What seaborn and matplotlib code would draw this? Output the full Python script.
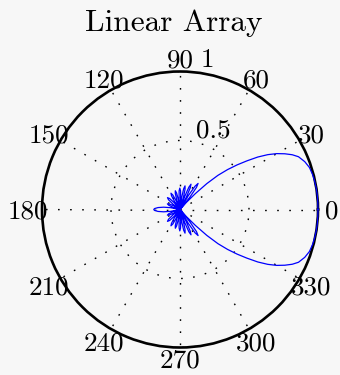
import numpy as np
import pandas as pd
import matplotlib
matplotlib.use("Agg")
import matplotlib.pyplot as plt
import seaborn as sns

# ---- data (upper half, degrees / normalized |AF|) ----
main_lobe_deg = [0, 3, 6, 9, 12, 15, 18, 21, 24, 26, 28, 30, 32, 34, 36, 38, 40, 42, 44, 46, 48, 49.5]
main_lobe_r   = [1.0, 1.0, 1.0, 0.999, 0.997, 0.993, 0.986, 0.968, 0.94, 0.905, 0.86, 0.81,
                 0.75, 0.68, 0.60, 0.525, 0.45, 0.37, 0.27, 0.16, 0.07, 0.0]

side_lobe_deg = [51.4, 53.3, 55.25, 57.2, 59.1, 61,
                 62.8, 64.7, 66.5, 68.3, 70.2, 72,
                 74, 76, 78, 80, 82, 84,
                 86.2, 88.3, 90.5, 92.7, 94.8, 97,
                 99.3, 101.7, 104, 106.3, 108.7, 111,
                 113.7, 116.3, 119, 121.7, 124.3, 127,
                 130.2, 133.3, 136.5, 139.7, 142.8, 146,
                 149.3, 152.7, 156, 159.3, 162.7, 166]
side_lobe_r   = [0.115, 0.20, 0.23, 0.20, 0.115, 0.0,
                 0.10, 0.174, 0.20, 0.174, 0.10, 0.0,
                 0.088, 0.152, 0.175, 0.152, 0.088, 0.0,
                 0.078, 0.135, 0.155, 0.135, 0.078, 0.0,
                 0.07, 0.122, 0.14, 0.122, 0.07, 0.0,
                 0.068, 0.117, 0.135, 0.117, 0.068, 0.0,
                 0.063, 0.109, 0.125, 0.109, 0.063, 0.0,
                 0.05, 0.087, 0.10, 0.087, 0.05, 0.0]

back_lobe_deg = [169, 172, 175, 178, 180]
back_lobe_r   = [0.07, 0.12, 0.16, 0.185, 0.19]

angle_ticks = [0, 30, 60, 90, 120, 150, 180, 210, 240, 270, 300, 330]
radial_ticks = [0.5, 1]
radial_labels = ["0.5", "1"]
title_text = "Linear Array"

# pattern is symmetric about the 0-180 axis
upper_deg = main_lobe_deg + side_lobe_deg + back_lobe_deg
upper_r = main_lobe_r + side_lobe_r + back_lobe_r
full_deg = upper_deg + [360 - a for a in reversed(upper_deg[:-1])]
full_r = upper_r + list(reversed(upper_r[:-1]))
df = pd.DataFrame({"theta": np.deg2rad(full_deg), "r": full_r})

# ---- styling ----
sns.set_style("white")
plt.rcParams["font.family"] = ["cmr10", "DejaVu Sans"]
plt.rcParams["mathtext.fontset"] = "cm"
plt.rcParams["axes.unicode_minus"] = False
plt.rcParams["axes.formatter.use_mathtext"] = True

bg = "#f7f7f7"
fig = plt.figure(figsize=(3.4, 3.75), dpi=100, facecolor=bg)
R_PX = 138.0
cx, cy = 180.0, 209.5
ax = fig.add_axes([(cx - R_PX) / 340, (375 - cy - R_PX) / 375, 2 * R_PX / 340, 2 * R_PX / 375],
                  projection="polar")
ax.set_facecolor(bg)
ax.set_theta_zero_location("E")
ax.set_theta_direction(1)

sns.lineplot(data=df, x="theta", y="r", ax=ax, sort=False, estimator=None,
             color="#0000ff", linewidth=0.9, zorder=5)
for ln in ax.get_lines():
    ln.set_clip_on(False)

ax.set_ylim(0, 1)
ax.set_yticks(radial_ticks)
ax.set_yticklabels([])
ax.set_xticks(np.deg2rad(angle_ticks))
ax.set_xticklabels([])
ax.set_xlabel("")
ax.set_ylabel("")
ax.grid(True, color="black", linestyle=(0, (1.2, 7.5)), linewidth=1.0)
ax.spines["polar"].set_color("black")
ax.spines["polar"].set_linewidth(1.9)
ax.spines["polar"].set_zorder(4)
ax.tick_params(length=0)

fs = 19.5
for a in angle_ticks:
    rr = 1.08 if a == 270 else 1.1
    ax.text(np.deg2rad(a), rr, str(a), ha="center", va="center_baseline",
            fontsize=fs, color="black", clip_on=False)

# radial labels (placed near 80 degrees as in the reference)
ax.text(np.deg2rad(81.6), 1.047, radial_labels[1], ha="left", va="baseline",
        fontsize=fs, color="black", clip_on=False)
ax.text(np.deg2rad(77.4), 0.531, radial_labels[0], ha="left", va="baseline",
        fontsize=fs, color="black", clip_on=False)

fig.text(173.5 / 340, 1 - 31 / 375, title_text, ha="center", va="baseline",
         fontsize=22.5, color="black")

fig.savefig("out.png", dpi=100, facecolor=bg)
